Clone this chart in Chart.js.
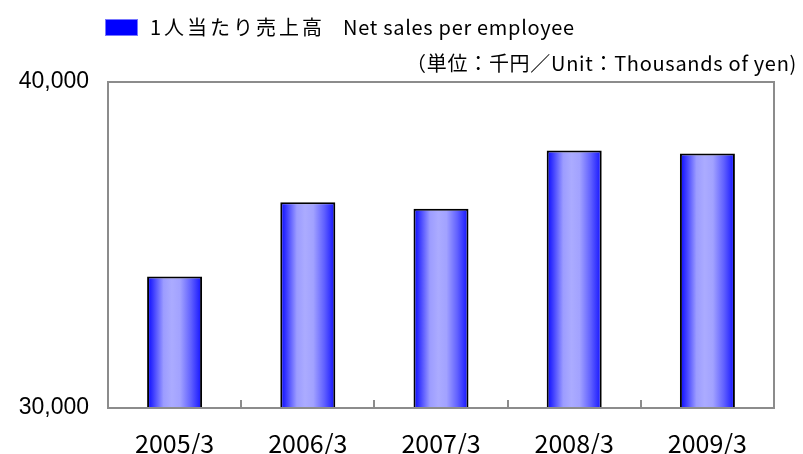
<!DOCTYPE html>
<html>
<head>
<meta charset="utf-8">
<script src="https://cdn.jsdelivr.net/npm/chart.js@4"></script>
<style>
  html, body { margin: 0; padding: 0; background: #fff; }
  #wrap { position: relative; width: 803px; height: 454px; }
  #legendBox { position: absolute; left: 105px; top: 19px; width: 33px; height: 17px; background: #0000ff; box-shadow: 0 0 0 1px #7777ff inset; }
  #legendText { position: absolute; left: 150px; top: 14px; font: 20px "Noto Sans CJK JP", sans-serif; line-height: 26px; color: #000; white-space: nowrap; }
  #legendText .jp { letter-spacing: 3px; }
  #legendText .en { position: absolute; left: 193px; top: 0; letter-spacing: 0.7px; }
  #unitText { position: absolute; right: 6px; top: 50px; font: 20px "Noto Sans CJK JP", sans-serif; line-height: 26px; color: #000; white-space: nowrap; letter-spacing: 0.7px; }
  canvas { position: absolute; left: 0; top: 0; }
</style>
</head>
<body>
<div id="wrap">
  <canvas id="salesChart" width="803" height="454"></canvas>
  <div id="legendBox"></div>
  <div id="legendText"><span class="jp">1人当たり売上高</span><span class="en">Net sales per employee</span></div>
  <div id="unitText">（単位：千円／Unit：Thousands of yen)</div>
</div>
<script>
// Net sales per employee (thousands of yen)
const years = ['2005/3', '2006/3', '2007/3', '2008/3', '2009/3'];
const salesPerEmployee = [34030, 36310, 36110, 37900, 37810];
const yTicks = [30000, 40000];

const barPct = 0.413;

// horizontal cylinder-like gradient for each bar
function barGradient(ctx) {
  const chart = ctx.chart;
  const xs = chart.scales.x;
  if (!xs || ctx.dataIndex === undefined || !xs.width) return '#8888ff';
  const cx = xs.getPixelForValue(ctx.dataIndex);
  const w = xs.width / years.length * barPct;
  const g = chart.ctx.createLinearGradient(cx - w / 2, 0, cx + w / 2, 0);
  g.addColorStop(0, '#0505ff');
  g.addColorStop(0.12, '#4040ff');
  g.addColorStop(0.3, '#9c9cff');
  g.addColorStop(0.45, '#ababff');
  g.addColorStop(0.6, '#a2a2ff');
  g.addColorStop(0.8, '#6060ff');
  g.addColorStop(1, '#1010ff');
  return g;
}

// grey frame round the plot area
const frame = {
  id: 'frame',
  afterDatasetsDraw(chart) {
    const a = chart.chartArea;
    const c = chart.ctx;
    c.save();
    c.strokeStyle = '#8c8c8c';
    c.lineWidth = 2;
    c.strokeRect(a.left, a.top, a.right - a.left, a.bottom - a.top);
    c.restore();
  }
};

new Chart(document.getElementById('salesChart'), {
  type: 'bar',
  data: {
    labels: years,
    datasets: [{
      label: '1人当たり売上高 Net sales per employee',
      data: salesPerEmployee,
      backgroundColor: barGradient,
      borderColor: '#000',
      borderWidth: 2,
      borderSkipped: 'start',
      barPercentage: barPct,
      categoryPercentage: 1
    }]
  },
  options: {
    responsive: false,
    animation: false,
    layout: { padding: { top: 82, right: 29, bottom: 0, left: 0 } },
    plugins: {
      legend: { display: false },
      tooltip: { enabled: false }
    },
    scales: {
      x: {
        offset: true,
        grid: {
          display: true,
          offset: true,
          drawOnChartArea: false,
          drawTicks: true,
          tickLength: -8,
          color: '#8c8c8c',
          lineWidth: 2
        },
        border: { display: false },
        ticks: {
          color: '#000',
          padding: 28,
          font: { family: '"Noto Sans CJK JP", sans-serif', size: 25 }
        },
        afterFit(s) { s.height = 46; }
      },
      y: {
        min: 30000,
        max: 40000,
        afterBuildTicks(s) { s.ticks = yTicks.map(v => ({ value: v })); },
        grid: { display: false, drawTicks: false },
        border: { display: false },
        ticks: {
          color: '#000',
          padding: 19,
          font: { family: '"Liberation Sans", Arial, sans-serif', size: 23 },
          callback: v => v.toLocaleString('en-US')
        },
        afterFit(s) { s.width = 108; }
      }
    }
  },
  plugins: [frame]
});
</script>
</body>
</html>
